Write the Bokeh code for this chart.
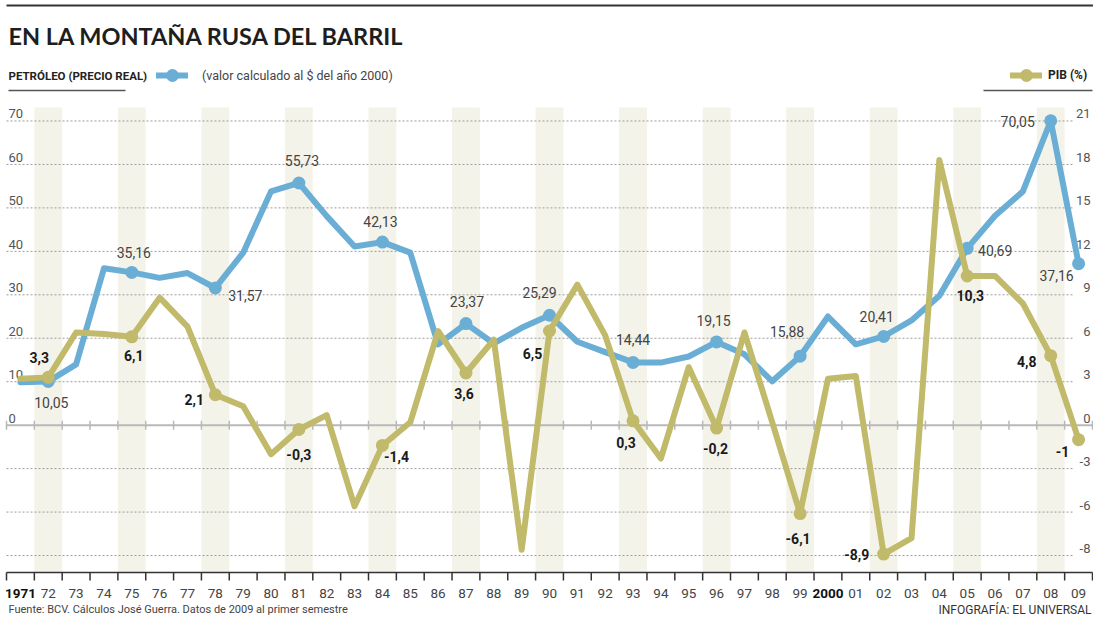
import math
from bokeh.plotting import figure
from bokeh.models import ColumnDataSource, Range1d, Legend, LegendItem
from bokeh.core.properties import value
from bokeh.embed import file_html
from bokeh.resources import INLINE

# ---------------- data ----------------
years = list(range(1971, 2010))
year_labels = ["1971", "72", "73", "74", "75", "76", "77", "78", "79", "80",
               "81", "82", "83", "84", "85", "86", "87", "88", "89", "90",
               "91", "92", "93", "94", "95", "96", "97", "98", "99", "2000",
               "01", "02", "03", "04", "05", "06", "07", "08", "09"]
bold_years = [1971, 2000]

# Oil, real price (US$ of year 2000)
oil = [9.9, 10.05, 14.0, 36.1, 35.16, 33.9, 35.0, 31.57, 39.7, 53.8,
       55.73, 48.1, 41.1, 42.13, 39.7, 18.6, 23.37, 18.8, 22.4, 25.29,
       19.2, 16.8, 14.44, 14.4, 15.8, 19.15, 16.3, 10.1, 15.88, 25.0,
       18.6, 20.41, 24.1, 29.8, 40.69, 48.2, 53.8, 70.05, 37.16]

# GDP growth (%)
pib = [3.2, 3.3, 6.4, 6.3, 6.1, 8.8, 6.8, 2.1, 1.3, -2.0,
       -0.3, 0.7, -5.6, -1.4, 0.2, 6.5, 3.6, 5.9, -8.6, 6.5,
       9.7, 6.2, 0.3, -2.3, 4.0, -0.2, 6.4, 0.2, -6.1, 3.2,
       3.4, -8.9, -7.8, 18.3, 10.3, 10.3, 8.4, 4.8, -1.0]

marked_years = [1972, 1975, 1978, 1981, 1984, 1987, 1990, 1993, 1996, 1999,
                2002, 2005, 2008, 2009]
band_years = [1972, 1975, 1978, 1981, 1984, 1987, 1990, 1993, 1996, 1999,
              2002, 2005, 2008]

left_ticks = [0, 10, 20, 30, 40, 50, 60, 70]
left_tick_labels = ["0", "10", "20", "30", "40", "50", "60", "70"]
right_ticks = [21, 18, 15, 12, 9, 6, 3, 0, -3, -6, -9]
right_tick_labels = ["21", "18", "15", "12", "9", "6", "3", "0", "-3", "-6", "-8"]
grid_values = [-30, -20, -10, 10, 20, 30, 40, 50, 60, 70]

# label placement (pixel offsets from the point: dx, dy downwards)
oil_label_offsets = {1972: (3, 21), 1975: (2, -20), 1978: (30, 8), 1981: (3, -22),
                     1984: (-2, -21), 1987: (1, -22), 1990: (-10, -23), 1993: (0, -23),
                     1996: (-3, -21), 1999: (-13, -25), 2002: (-7, -20), 2005: (28, 2),
                     2008: (-33, 1), 2009: (-22, 12)}
pib_label_offsets = {1972: (-9, -20), 1975: (2, 19), 1978: (-21, 5), 1981: (0, 25),
                     1984: (14, 11), 1987: (-2, 20), 1990: (-17, 22), 1993: (-7, 22),
                     1996: (-1, 20), 1999: (-2, 25), 2002: (-27, 0), 2005: (3, 20),
                     2008: (-24, 6), 2009: (-16, 12)}

# ---------------- styles / layout ----------------
BLUE = "#6aaed6"
OLIVE = "#c0ba6a"
BAND = "#f4f3ea"
FONT = "Roboto"
TITLE_FONT = "Lato"

W, H = 1093, 617
X_START, X_END = 1970.5, 2009.5
LEFT_PX, RIGHT_PX = 6, 1092          # canvas x of the first / last year edge
CHART_TOP, CHART_BOTTOM = 73.1, -33.9
TOP_PX, BOTTOM_PX = 107, 572         # canvas y of chart top / bottom
PPY = (RIGHT_PX - LEFT_PX) / (X_END - X_START)
PPU = (BOTTOM_PX - TOP_PX) / (CHART_TOP - CHART_BOTTOM)
PIB_FACTOR = 0.3  # 10 oil units <-> 3 GDP points


def cx(c):
    return X_START + (c - LEFT_PX) / PPY


def cy(c):
    return CHART_TOP - (c - TOP_PX) / PPU


p = figure(width=W, height=H, x_range=Range1d(cx(0), cx(W)),
           y_range=Range1d(cy(H), cy(0)), output_backend="svg",
           toolbar_location=None, x_axis_location=None, y_axis_location=None,
           min_border=0)
p.extra_y_ranges = {"pib": Range1d(cy(H) * PIB_FACTOR, cy(0) * PIB_FACTOR)}
p.grid.visible = False
p.outline_line_color = None
p.background_fill_color = "white"
p.border_fill_color = "white"

# bands
p.vbar(x=band_years, width=1, bottom=CHART_BOTTOM, top=CHART_TOP,
       fill_color=BAND, line_color=None)

# dotted grid
p.segment(x0=X_START, x1=cx(1073), y0=grid_values, y1=grid_values,
          line_color="#9c9c9c", line_dash="2 2", line_width=1)

# zero baseline with ticks
edges = [y - 0.5 for y in years] + [years[-1] + 0.5]
p.segment(x0=X_START, x1=X_END, y0=0, y1=0, line_color="#b8b8b8", line_width=2)
p.scatter(x=edges, y=[0] * len(edges), marker="dash", angle=math.pi / 2, size=9,
          line_color="#b8b8b8", line_width=1.5)

# bottom axis: line, edge ticks, year labels
p.segment(x0=X_START, x1=X_END, y0=CHART_BOTTOM, y1=CHART_BOTTOM,
          line_color="#333333", line_width=1.5)
p.segment(x0=edges, x1=edges, y0=CHART_BOTTOM, y1=CHART_BOTTOM - 8 / PPU,
          line_color="#333333", line_width=1.5)
year_src = ColumnDataSource(dict(
    x=years, y=[CHART_BOTTOM] * len(years), text=year_labels,
    style=["bold" if y in bold_years else "normal" for y in years],
    color=["#111111" if y in bold_years else "#444444" for y in years]))
p.text(x="x", y="y", text="text", source=year_src, y_offset=21,
       text_align="center", text_baseline="middle", text_font=value(FONT),
       text_font_size="13.5px", text_font_style="style", text_color="color")

# axis labels inside plot
p.text(x=X_START, y=left_ticks, text=left_tick_labels, x_offset=2, y_offset=-7,
       text_align="left", text_baseline="alphabetic", text_font=value(FONT),
       text_font_size="13px", text_color="#555555")
p.text(x=X_END, y=right_ticks, text=right_tick_labels, x_offset=-2, y_offset=-7,
       text_align="right", text_baseline="alphabetic", text_font=value(FONT),
       text_font_size="13px", text_color="#555555", y_range_name="pib")

# series
oil_line = p.line(years, oil, line_color=BLUE, line_width=6, line_join="round", line_cap="round")
oil_marked = [oil[years.index(y)] for y in marked_years]
pib_marked = [pib[years.index(y)] for y in marked_years]
oil_dots = p.scatter(marked_years, oil_marked, size=13, fill_color=BLUE, line_color=None)
pib_line = p.line(years, pib, line_color=OLIVE, line_width=6, line_join="round",
                  line_cap="round", y_range_name="pib")
pib_dots = p.scatter(marked_years, pib_marked, size=13, fill_color=OLIVE, line_color=None,
                     y_range_name="pib")

# value labels
oil_src = ColumnDataSource(dict(
    x=marked_years, y=oil_marked,
    text=[f"{v:.2f}".replace(".", ",") for v in oil_marked],
    dx=[oil_label_offsets[y][0] for y in marked_years],
    dy=[oil_label_offsets[y][1] for y in marked_years]))
p.text(x="x", y="y", text="text", x_offset="dx", y_offset="dy", source=oil_src,
       text_align="center", text_baseline="middle", text_font=value(FONT),
       text_font_size="14px", text_color="#444444")
pib_src = ColumnDataSource(dict(
    x=marked_years, y=pib_marked,
    text=[f"{v:g}".replace(".", ",") for v in pib_marked],
    dx=[pib_label_offsets[y][0] for y in marked_years],
    dy=[pib_label_offsets[y][1] for y in marked_years]))
p.text(x="x", y="y", text="text", x_offset="dx", y_offset="dy", source=pib_src,
       text_align="center", text_baseline="middle", text_font=value(FONT),
       text_font_size="14px", text_font_style="bold", text_color="#1a1a1a",
       y_range_name="pib")

# header
p.segment(x0=cx(6), x1=cx(W), y0=cy(5), y1=cy(5), line_color="#333333", line_width=2)
p.text(x=cx(8), y=cy(35), text=["EN LA MONTAÑA RUSA DEL BARRIL"], text_align="left",
       text_baseline="middle", text_font=value(TITLE_FONT), text_font_size="23.5px",
       text_font_style="bold", text_color="#1e1e1e")
p.text(x=cx(8), y=cy(75), text=["PETRÓLEO (PRECIO REAL)"], text_align="left",
       text_baseline="middle", text_font=value(FONT), text_font_size="11.5px",
       text_font_style="bold", text_color="#222222")
p.segment(x0=cx(8), x1=cx(125), y0=cy(90), y1=cy(90), line_color="#555555", line_width=1.5)
p.segment(x0=cx(983), x1=cx(1092), y0=cy(90), y1=cy(90), line_color="#555555", line_width=1.5)

leg_left = Legend(items=[LegendItem(label="(valor calculado al $ del año 2000)",
                                    renderers=[oil_line, oil_dots])],
                  location=(156, H - 75 - 16), orientation="horizontal",
                  glyph_width=32, glyph_height=32, label_standoff=14,
                  padding=0, margin=0, border_line_color=None,
                  background_fill_alpha=0, label_text_font=FONT,
                  label_text_font_size="12.5px", label_text_color="#444444")
leg_right = Legend(items=[LegendItem(label="PIB (%)", renderers=[pib_line, pib_dots])],
                   location=(1010, H - 75 - 16), orientation="horizontal",
                   glyph_width=32, glyph_height=32, label_standoff=6,
                   padding=0, margin=0, border_line_color=None,
                   background_fill_alpha=0, label_text_font=FONT,
                   label_text_font_size="12px", label_text_font_style="bold",
                   label_text_color="#222222")
p.add_layout(leg_left)
p.add_layout(leg_right)

# footer
p.text(x=cx(8), y=cy(609),
       text=["Fuente: BCV. Cálculos José Guerra. Datos de 2009 al primer semestre"],
       text_align="left", text_baseline="middle", text_font=value(FONT),
       text_font_size="11px", text_color="#444444")
p.text(x=cx(1091), y=cy(609), text=["INFOGRAFÍA: EL UNIVERSAL"],
       text_align="right", text_baseline="middle", text_font=value(FONT),
       text_font_size="12px", text_color="#333333")

open("out.html", "w").write(file_html(p, INLINE))
